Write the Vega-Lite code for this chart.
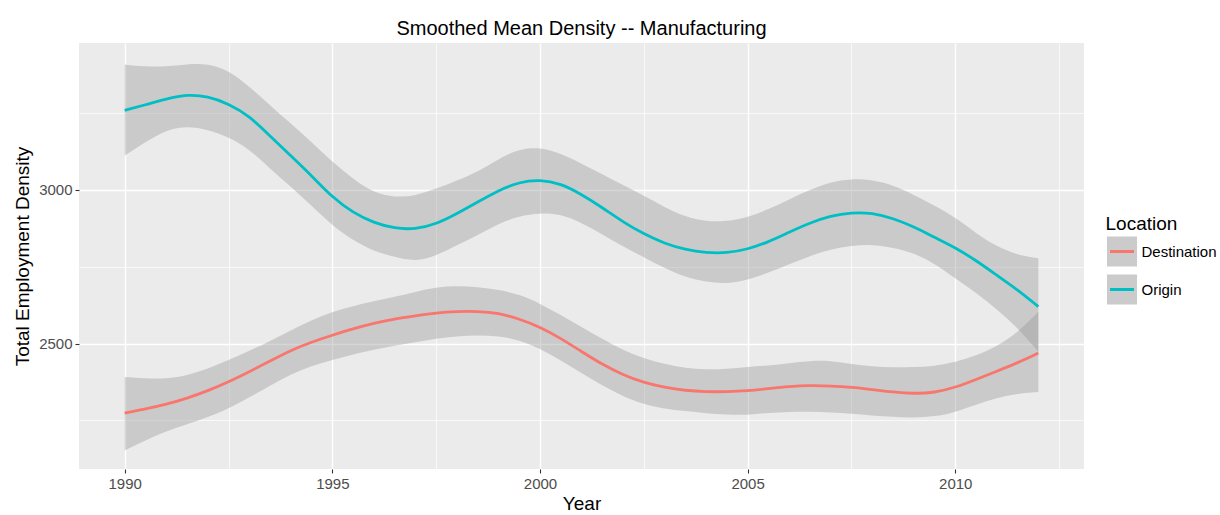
{
  "$schema": "https://vega.github.io/schema/vega-lite/v6.json",
  "width": 1005,
  "height": 426,
  "autosize": {"type": "none"},
  "padding": {"left": 79, "top": 43, "right": 136, "bottom": 46},
  "background": "#FFFFFF",
  "title": {
    "text": "Smoothed Mean Density -- Manufacturing",
    "font": "Liberation Sans",
    "fontSize": 20,
    "fontWeight": "normal",
    "color": "#000000",
    "anchor": "middle",
    "baseline": "alphabetic",
    "offset": 13,
    "dy": 25
  },
  "config": {
    "view": {"fill": "#EBEBEB", "stroke": null},
    "axis": {
      "domain": false,
      "gridColor": "#FFFFFF",
      "tickColor": "#333333",
      "tickWidth": 1.1,
      "tickSize": 4,
      "labelFont": "Liberation Sans",
      "labelFontSize": 15,
      "labelColor": "#4D4D4D",
      "labelOverlap": false,
      "titleFont": "Liberation Sans",
      "titleFontSize": 19,
      "titleFontWeight": "normal",
      "titleColor": "#000000"
    },
    "legend": {
      "titleFont": "Liberation Sans",
      "titleFontSize": 19,
      "titleFontWeight": "normal",
      "titleColor": "#000000",
      "labelFont": "Liberation Sans",
      "labelFontSize": 15,
      "labelColor": "#000000"
    }
  },
  "data": {
    "values": [
      {"Year": 1990, "Location": "Origin", "fit": 3258, "lo": 3111, "hi": 3407},
      {"Year": 1990.5, "Location": "Origin", "fit": 3276, "lo": 3155, "hi": 3400},
      {"Year": 1991, "Location": "Origin", "fit": 3295, "lo": 3195, "hi": 3400},
      {"Year": 1991.5, "Location": "Origin", "fit": 3310, "lo": 3207, "hi": 3408},
      {"Year": 1992, "Location": "Origin", "fit": 3304, "lo": 3196, "hi": 3410},
      {"Year": 1992.5, "Location": "Origin", "fit": 3280, "lo": 3171, "hi": 3389},
      {"Year": 1993, "Location": "Origin", "fit": 3240, "lo": 3133, "hi": 3335},
      {"Year": 1993.5, "Location": "Origin", "fit": 3175, "lo": 3068, "hi": 3275},
      {"Year": 1994, "Location": "Origin", "fit": 3110, "lo": 3010, "hi": 3215},
      {"Year": 1994.5, "Location": "Origin", "fit": 3046, "lo": 2948, "hi": 3155},
      {"Year": 1995, "Location": "Origin", "fit": 2975, "lo": 2883, "hi": 3090},
      {"Year": 1995.5, "Location": "Origin", "fit": 2925, "lo": 2835, "hi": 3035},
      {"Year": 1996, "Location": "Origin", "fit": 2892, "lo": 2800, "hi": 2990},
      {"Year": 1996.5, "Location": "Origin", "fit": 2874, "lo": 2781, "hi": 2975},
      {"Year": 1997, "Location": "Origin", "fit": 2871, "lo": 2766, "hi": 2980},
      {"Year": 1997.5, "Location": "Origin", "fit": 2888, "lo": 2785, "hi": 3003},
      {"Year": 1998, "Location": "Origin", "fit": 2922, "lo": 2820, "hi": 3030},
      {"Year": 1998.5, "Location": "Origin", "fit": 2960, "lo": 2852, "hi": 3058},
      {"Year": 1999, "Location": "Origin", "fit": 2998, "lo": 2890, "hi": 3100},
      {"Year": 1999.5, "Location": "Origin", "fit": 3025, "lo": 2915, "hi": 3133},
      {"Year": 2000, "Location": "Origin", "fit": 3033, "lo": 2924, "hi": 3138},
      {"Year": 2000.5, "Location": "Origin", "fit": 3020, "lo": 2921, "hi": 3118},
      {"Year": 2001, "Location": "Origin", "fit": 2985, "lo": 2892, "hi": 3085},
      {"Year": 2001.5, "Location": "Origin", "fit": 2942, "lo": 2855, "hi": 3050},
      {"Year": 2002, "Location": "Origin", "fit": 2895, "lo": 2815, "hi": 3015},
      {"Year": 2002.5, "Location": "Origin", "fit": 2856, "lo": 2781, "hi": 2981},
      {"Year": 2003, "Location": "Origin", "fit": 2825, "lo": 2745, "hi": 2943},
      {"Year": 2003.5, "Location": "Origin", "fit": 2805, "lo": 2715, "hi": 2912},
      {"Year": 2004, "Location": "Origin", "fit": 2795, "lo": 2700, "hi": 2896},
      {"Year": 2004.5, "Location": "Origin", "fit": 2794, "lo": 2694, "hi": 2897},
      {"Year": 2005, "Location": "Origin", "fit": 2806, "lo": 2706, "hi": 2910},
      {"Year": 2005.5, "Location": "Origin", "fit": 2830, "lo": 2730, "hi": 2936},
      {"Year": 2006, "Location": "Origin", "fit": 2862, "lo": 2758, "hi": 2968},
      {"Year": 2006.5, "Location": "Origin", "fit": 2892, "lo": 2785, "hi": 3000},
      {"Year": 2007, "Location": "Origin", "fit": 2915, "lo": 2806, "hi": 3025},
      {"Year": 2007.5, "Location": "Origin", "fit": 2926, "lo": 2818, "hi": 3036},
      {"Year": 2008, "Location": "Origin", "fit": 2925, "lo": 2822, "hi": 3032},
      {"Year": 2008.5, "Location": "Origin", "fit": 2907, "lo": 2812, "hi": 3015},
      {"Year": 2009, "Location": "Origin", "fit": 2880, "lo": 2795, "hi": 2984},
      {"Year": 2009.5, "Location": "Origin", "fit": 2845, "lo": 2760, "hi": 2948},
      {"Year": 2010, "Location": "Origin", "fit": 2812, "lo": 2712, "hi": 2910},
      {"Year": 2010.5, "Location": "Origin", "fit": 2770, "lo": 2665, "hi": 2858},
      {"Year": 2011, "Location": "Origin", "fit": 2722, "lo": 2612, "hi": 2815},
      {"Year": 2011.5, "Location": "Origin", "fit": 2675, "lo": 2552, "hi": 2787},
      {"Year": 2012, "Location": "Origin", "fit": 2620, "lo": 2473, "hi": 2777},
      {"Year": 1990, "Location": "Destination", "fit": 2274, "lo": 2152, "hi": 2391},
      {"Year": 1990.5, "Location": "Destination", "fit": 2287, "lo": 2185, "hi": 2386},
      {"Year": 1991, "Location": "Destination", "fit": 2302, "lo": 2215, "hi": 2385},
      {"Year": 1991.5, "Location": "Destination", "fit": 2322, "lo": 2237, "hi": 2396},
      {"Year": 1992, "Location": "Destination", "fit": 2346, "lo": 2260, "hi": 2418},
      {"Year": 1992.5, "Location": "Destination", "fit": 2375, "lo": 2288, "hi": 2446},
      {"Year": 1993, "Location": "Destination", "fit": 2408, "lo": 2325, "hi": 2476},
      {"Year": 1993.5, "Location": "Destination", "fit": 2443, "lo": 2363, "hi": 2508},
      {"Year": 1994, "Location": "Destination", "fit": 2478, "lo": 2400, "hi": 2543},
      {"Year": 1994.5, "Location": "Destination", "fit": 2505, "lo": 2428, "hi": 2576},
      {"Year": 1995, "Location": "Destination", "fit": 2527, "lo": 2446, "hi": 2603},
      {"Year": 1995.5, "Location": "Destination", "fit": 2548, "lo": 2465, "hi": 2622},
      {"Year": 1996, "Location": "Destination", "fit": 2566, "lo": 2480, "hi": 2638},
      {"Year": 1996.5, "Location": "Destination", "fit": 2580, "lo": 2493, "hi": 2651},
      {"Year": 1997, "Location": "Destination", "fit": 2590, "lo": 2504, "hi": 2668},
      {"Year": 1997.5, "Location": "Destination", "fit": 2600, "lo": 2516, "hi": 2683},
      {"Year": 1998, "Location": "Destination", "fit": 2604, "lo": 2524, "hi": 2687},
      {"Year": 1998.5, "Location": "Destination", "fit": 2605, "lo": 2527, "hi": 2684},
      {"Year": 1999, "Location": "Destination", "fit": 2599, "lo": 2524, "hi": 2675},
      {"Year": 1999.5, "Location": "Destination", "fit": 2580, "lo": 2512, "hi": 2660},
      {"Year": 2000, "Location": "Destination", "fit": 2554, "lo": 2484, "hi": 2630},
      {"Year": 2000.5, "Location": "Destination", "fit": 2517, "lo": 2445, "hi": 2593},
      {"Year": 2001, "Location": "Destination", "fit": 2474, "lo": 2404, "hi": 2553},
      {"Year": 2001.5, "Location": "Destination", "fit": 2432, "lo": 2363, "hi": 2515},
      {"Year": 2002, "Location": "Destination", "fit": 2398, "lo": 2328, "hi": 2478},
      {"Year": 2002.5, "Location": "Destination", "fit": 2373, "lo": 2302, "hi": 2451},
      {"Year": 2003, "Location": "Destination", "fit": 2357, "lo": 2288, "hi": 2433},
      {"Year": 2003.5, "Location": "Destination", "fit": 2347, "lo": 2280, "hi": 2420},
      {"Year": 2004, "Location": "Destination", "fit": 2343, "lo": 2273, "hi": 2415},
      {"Year": 2004.5, "Location": "Destination", "fit": 2343, "lo": 2269, "hi": 2417},
      {"Year": 2005, "Location": "Destination", "fit": 2346, "lo": 2267, "hi": 2424},
      {"Year": 2005.5, "Location": "Destination", "fit": 2353, "lo": 2275, "hi": 2428},
      {"Year": 2006, "Location": "Destination", "fit": 2360, "lo": 2278, "hi": 2436},
      {"Year": 2006.5, "Location": "Destination", "fit": 2364, "lo": 2279, "hi": 2444},
      {"Year": 2007, "Location": "Destination", "fit": 2362, "lo": 2276, "hi": 2444},
      {"Year": 2007.5, "Location": "Destination", "fit": 2358, "lo": 2272, "hi": 2433},
      {"Year": 2008, "Location": "Destination", "fit": 2350, "lo": 2266, "hi": 2425},
      {"Year": 2008.5, "Location": "Destination", "fit": 2342, "lo": 2261, "hi": 2422},
      {"Year": 2009, "Location": "Destination", "fit": 2337, "lo": 2259, "hi": 2423},
      {"Year": 2009.5, "Location": "Destination", "fit": 2340, "lo": 2262, "hi": 2426},
      {"Year": 2010, "Location": "Destination", "fit": 2357, "lo": 2277, "hi": 2440},
      {"Year": 2010.5, "Location": "Destination", "fit": 2383, "lo": 2301, "hi": 2460},
      {"Year": 2011, "Location": "Destination", "fit": 2410, "lo": 2323, "hi": 2490},
      {"Year": 2011.5, "Location": "Destination", "fit": 2437, "lo": 2337, "hi": 2535},
      {"Year": 2012, "Location": "Destination", "fit": 2469, "lo": 2342, "hi": 2603}
    ]
  },
  "encoding": {
    "x": {
      "field": "Year",
      "type": "quantitative",
      "scale": {"domain": [1988.9, 2013.1], "nice": false, "zero": false},
      "axis": {
        "title": "Year",
        "values": [1990, 1992.5, 1995, 1997.5, 2000, 2002.5, 2005, 2007.5, 2010, 2012.5],
        "labelExpr": "datum.value % 5 === 0 ? format(datum.value, 'd') : ''",
        "labelPadding": 3,
        "gridWidth": {"condition": {"test": "datum.value % 5 === 0", "value": 1.4}, "value": 0.7},
        "tickOpacity": {"condition": {"test": "datum.value % 5 === 0", "value": 1}, "value": 0},
        "titleBaseline": "alphabetic",
        "titleY": 40
      }
    },
    "y": {
      "type": "quantitative",
      "scale": {"domain": [2092, 3477], "nice": false, "zero": false}
    }
  },
  "layer": [
    {
      "mark": {"type": "area", "interpolate": "basis", "fillOpacity": 0.4},
      "encoding": {
        "y": {
          "field": "lo",
          "type": "quantitative",
          "axis": {
            "title": "Total Employment Density",
            "values": [2250, 2500, 2750, 3000, 3250],
            "labelExpr": "datum.value % 500 === 0 ? format(datum.value, 'd') : ''",
            "labelPadding": 3,
            "gridWidth": {"condition": {"test": "datum.value % 500 === 0", "value": 1.4}, "value": 0.7},
            "tickOpacity": {"condition": {"test": "datum.value % 500 === 0", "value": 1}, "value": 0},
            "titleBaseline": "alphabetic",
            "titleX": -51
          }
        },
        "y2": {"field": "hi"},
        "fill": {
          "field": "Location",
          "type": "nominal",
          "scale": {"domain": ["Destination", "Origin"], "range": ["#999999", "#999999"]},
          "legend": {
            "title": "Location",
            "orient": "none",
            "legendX": 1026.5,
            "legendY": 172,
            "zindex": 0,
            "symbolType": "square",
            "symbolSize": 900,
            "symbolStrokeWidth": 3,
            "symbolStrokeColor": "transparent",
            "symbolOpacity": 0.5,
            "rowPadding": -25,
            "titlePadding": 1,
            "labelOffset": 3,
            "titleOpacity": 0,
            "labelOpacity": 0
          }
        }
      }
    },
    {
      "mark": {"type": "line", "interpolate": "basis", "strokeWidth": 2.8},
      "encoding": {
        "y": {"field": "fit", "type": "quantitative"},
        "color": {
          "field": "Location",
          "type": "nominal",
          "scale": {"range": ["#F8766D", "#00BFC4"]},
          "legend": {
            "title": "Location",
            "orient": "none",
            "legendX": 1026.5,
            "legendY": 172,
            "zindex": 1,
            "symbolType": "M-1,-1M1,1M-0.8,0H0.8",
            "symbolSize": 900,
            "symbolStrokeWidth": 3,
            "rowPadding": -25,
            "titlePadding": 1,
            "labelOffset": 3
          }
        }
      }
    }
  ]
}
